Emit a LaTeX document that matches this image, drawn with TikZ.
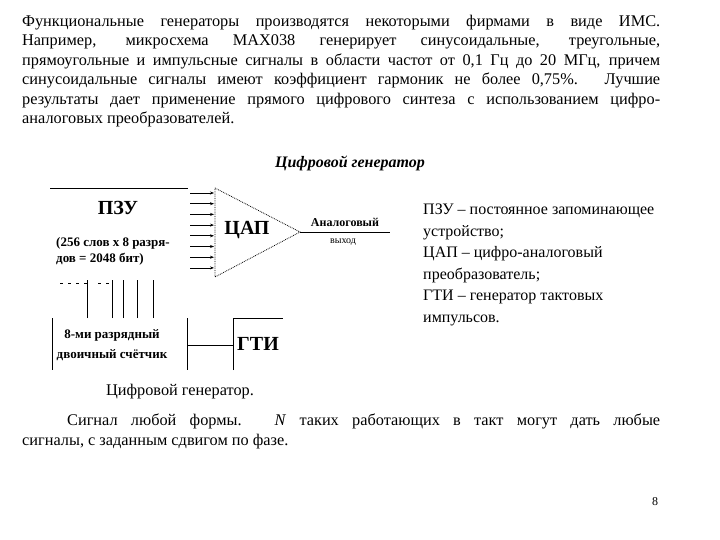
\documentclass[tikz,border=0pt]{standalone}
\usepackage{fontspec}
\setmainfont{Liberation Serif}
\usetikzlibrary{arrows.meta}
\begin{document}
\begin{tikzpicture}[x=1pt,y=-1pt,
  txt/.style={inner sep=0pt,font=\fontsize{16.3}{19.4}\selectfont},
  lbl/.style={inner sep=0pt,font=\bfseries\fontsize{13}{16}\selectfont},
  big/.style={inner sep=0pt,font=\bfseries\fontsize{20}{22}\selectfont},
  ln/.style={line width=0.8pt},
  arr/.style={ln,-{Stealth[length=4pt,width=3pt]}}]
\useasboundingbox (0,0) rectangle (720,540);
\node[txt,anchor=north west,text width=638pt,align=justify] (p1) at (22,15)
{\emergencystretch=3em Функциональные генераторы производятся некоторыми фирмами в виде ИМС.\linebreak Например, микросхема MAX038 генерирует синусоидальные, треугольные,\linebreak прямоугольные и импульсные сигналы в области частот от 0,1 Гц до 20 МГц, причем\linebreak синусоидальные сигналы имеют коэффициент гармоник не более 0,75\%. Лучшие\linebreak результаты дает применение прямого цифрового синтеза с использованием цифро-\linebreak аналоговых преобразователей.};
\node[txt,font=\bfseries\itshape\fontsize{16}{19}\selectfont] (ttl) at (350,163) {Цифровой генератор};
% ROM
\coordinate (r1) at (50,188); \coordinate (r2) at (188,188);
\draw[ln] (r1) -- (r2);
\node[big] (pzu) at (118,208) {ПЗУ};
\node[lbl,align=left] (pzut) at (113,251) {(256 слов х 8 разря-\\дов = 2048 бит)};
\foreach \i in {0,...,7}{
  \coordinate (a\i) at (190,{193+\i*10.7});
  \coordinate (b\i) at (214,{193+\i*10.7});
  \draw[arr] (a\i) -- (b\i);}
% DAC
\coordinate (t1) at (215,188); \coordinate (t2) at (300,232); \coordinate (t3) at (215,277);
\draw[ln,densely dotted] (t1) -- (t2) -- (t3) -- cycle;
\node[big] (dac) at (247,230) {ЦАП};
\coordinate (o2) at (390,232);
\draw[ln] (t2) -- (o2);
\node[lbl,font=\bfseries\fontsize{12}{12}\selectfont] (ao) at (345,222) {Аналоговый};
\node[lbl,font=\fontsize{10}{12}\selectfont] (vy) at (343,242) {выход};
% counter lines
\foreach \x in {87,112,123,137,153}{
  \coordinate (u\x) at (\x,280); \coordinate (d\x) at (\x,318);
  \draw[ln] (d\x) -- (u\x);}
\foreach \x in {60,68,76,84,98,106}{
  \coordinate (s\x) at (\x,283); \coordinate (e\x) at (\x+3,283);
  \draw[ln] (s\x) -- (e\x);}
\coordinate (c1) at (52,318); \coordinate (c2) at (52,370);
\coordinate (c3) at (187,318); \coordinate (c4) at (187,370);
\draw[ln] (c1) -- (c2); \draw[ln] (c3) -- (c4);
\node[lbl,align=center,font=\bfseries\fontsize{13}{20}\selectfont] (cnt) at (112,345) {8-ми разрядный\\двоичный счётчик};
\coordinate (g1) at (233,345); \coordinate (cm) at (187,345);
\draw[ln] (cm) -- (g1);
\coordinate (g0) at (233,318); \coordinate (g2) at (233,370); \coordinate (g3) at (283,318);
\draw[ln] (g2) -- (g0) -- (g3);
\node[big] (gti) at (258,344) {ГТИ};
% legend
\node[txt,anchor=north west,align=left,font=\fontsize{16}{21.5}\selectfont] (leg) at (423,204)
{ПЗУ – постоянное запоминающее\\устройство;\\ЦАП – цифро-аналоговый\\преобразователь;\\ГТИ – генератор тактовых\\импульсов.};
\node[txt] (cap) at (180,392) {Цифровой генератор.};
\node[txt,anchor=north west,text width=638pt,align=justify] (p2) at (22,414)
{\hspace*{45pt}Сигнал любой формы. \textit{N} таких работающих в такт могут дать любые\linebreak сигналы, с заданным сдвигом по фазе.};
\node[txt,font=\fontsize{12}{14}\selectfont] (pg) at (655,502) {8};
\end{tikzpicture}
\end{document}
